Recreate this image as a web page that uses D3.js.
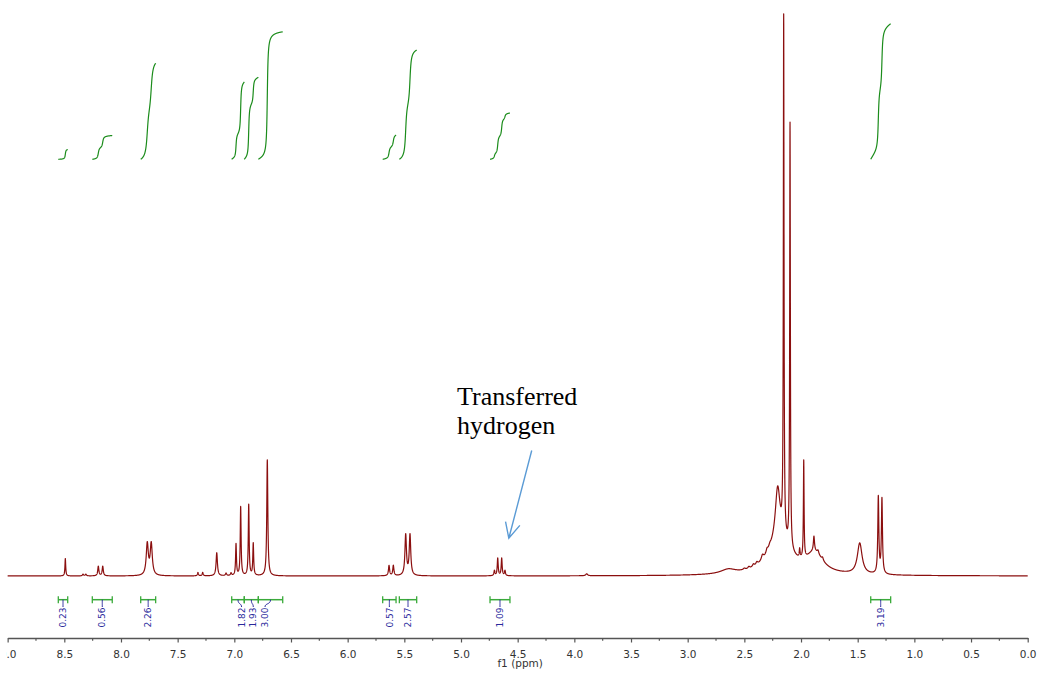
<!DOCTYPE html>
<html><head><meta charset="utf-8">
<script src="https://cdn.jsdelivr.net/npm/d3@7"></script>
<style>body{margin:0;background:#fff}svg{display:block}</style>
</head><body>
<svg id="c" width="1040" height="674"></svg>
<script>
// ---- Peak list (ppm, relative height, half width in ppm)
const peakPpm    = [8.491, 8.335, 8.310, 8.200, 8.161, 7.768, 7.733, 7.321, 7.279, 7.155, 7.073, 7.029,
                    6.985, 6.944, 6.873, 6.833, 6.709, 5.635, 5.597, 5.488, 5.450,
                    4.705, 4.676, 4.641, 4.612, 3.891, 2.642,
                    2.190, 2.500, 2.460, 2.420, 2.390, 2.340, 2.300, 2.275,
                    2.206, 2.153, 2.097, 2.012, 1.976, 1.880, 1.886, 1.850, 1.810,
                    1.482, 1.318, 1.286];
const peakHeight = [3.1, 0.3, 0.3, 1.7, 1.7, 5.6, 5.6, 0.6, 0.6, 4.1, 0.45, 0.45,
                    5.6, 12.2, 12.6, 5.7, 20.6, 1.8, 1.8, 7.2, 7.2,
                    0.9, 3.1, 3.1, 0.9, 0.35, 0.8,
                    6.0, 0.25, 0.35, 0.45, 0.5, 0.9, 0.7, 0.5,
                    9.3, 92, 75.5, 1.5, 17.3, 3.5, 2.6, 0.6, 0.5,
                    5.5, 13.6, 13.3];
const peakWidth  = [0.004, 0.006, 0.006, 0.006, 0.006, 0.011, 0.011, 0.005, 0.005, 0.007, 0.006, 0.006,
                    0.0045, 0.0045, 0.0045, 0.0045, 0.0055, 0.006, 0.006, 0.008, 0.008,
                    0.005, 0.005, 0.005, 0.005, 0.01, 0.08,
                    0.12, 0.01, 0.01, 0.01, 0.01, 0.012, 0.01, 0.012,
                    0.025, 0.0035, 0.0035, 0.004, 0.0035, 0.09, 0.006, 0.008, 0.008,
                    0.025, 0.0055, 0.0055];

// ---- Integration regions and values
const integralFrom  = [8.553, 8.253, 7.826, 7.023, 6.912, 6.788, 5.691, 5.544, 4.744, 1.385];
const integralTo    = [8.470, 8.077, 7.694, 6.912, 6.788, 6.573, 5.573, 5.391, 4.568, 1.209];
const integralValue = [0.23, 0.56, 2.26, 1.82, 1.93, 3.00, 0.57, 2.57, 1.09, 3.19];

// ---- Axis ticks
const majorTicks = [9.0, 8.5, 8.0, 7.5, 7.0, 6.5, 6.0, 5.5, 5.0, 4.5, 4.0, 3.5, 3.0, 2.5, 2.0, 1.5, 1.0, 0.5, 0.0];
const minorTicks = [8.75, 8.25, 7.75, 7.25, 6.75, 6.25, 5.75, 5.25, 4.75, 4.25, 3.75, 3.25, 2.75, 2.25, 1.75, 1.25, 0.75, 0.25];
const axisTitle = "f1 (ppm)";

// ---- Annotation (data coordinates: ppm, intensity)
const annotationLines = ["Transferred", "hydrogen"];
const annotationText  = [5.035, 30.4];
const arrowTail = [4.376, 22.3];
const arrowTip  = [4.578, 6.7];

// ---------------------------------------------------------------
const svg = d3.select("#c");
const x = d3.scaleLinear().domain([9.0, 0.0]).range([7.64, 1027.7]);
const y = d3.scaleLinear().domain([0, 100]).range([576, 13]);
const yInt = d3.scaleLinear().domain([0, 1]).range([159.3, 116.8]);

function intensity(p) {
  let s = 0;
  for (let i = 0; i < peakPpm.length; i++) {
    const d = (p - peakPpm[i]) / peakWidth[i];
    s += peakHeight[i] / (1 + d * d);
  }
  return s;
}

const step = 0.0005;
const spec = d3.range(9.0, -step / 2, -step).map(p => [p, intensity(p)]);

svg.append("path")
  .datum(spec)
  .attr("fill", "none")
  .attr("stroke", "#8b0f0f")
  .attr("stroke-width", 1.2)
  .attr("stroke-linejoin", "round")
  .attr("d", d3.line().x(d => x(d[0])).y(d => y(d[1])));

// ---- Integral curves
integralFrom.forEach((hi, i) => {
  const lo = integralTo[i];
  const pts = d3.range(hi, lo - step / 2, -step);
  let cum = 0;
  const c = pts.map((p, k) => { if (k > 0) cum += (intensity(p) + intensity(pts[k - 1])) / 2; return [p, cum]; });
  const total = cum;
  svg.append("path")
    .datum(c)
    .attr("fill", "none")
    .attr("stroke", "#1b8c1b")
    .attr("stroke-width", 1.2)
    .attr("d", d3.line().x(d => x(d[0])).y(d => yInt(integralValue[i] * d[1] / total)));
});

// ---- Integration bars + labels
const barY = 599.7;
const labelTop = 607;
const centers = integralFrom.map((hi, i) => (x(hi) + x(integralTo[i])) / 2);
const labelX = centers.slice();
let clusters = [], cur = [0];
for (let i = 1; i < integralFrom.length; i++) {
  if (Math.abs(integralFrom[i] - integralTo[i - 1]) < 0.01) cur.push(i);
  else { clusters.push(cur); cur = [i]; }
}
clusters.push(cur);
const labelGap = 11.7;
clusters.forEach(cl => {
  if (cl.length < 2) return;
  const m = d3.mean(cl, i => centers[i]);
  cl.forEach((i, k) => { labelX[i] = m + (k - (cl.length - 1) / 2) * labelGap; });
});

const gBars = svg.append("g");
integralFrom.forEach((hi, i) => {
  const x0 = x(hi), x1 = x(integralTo[i]);
  gBars.append("line").attr("x1", x0).attr("x2", x1).attr("y1", barY).attr("y2", barY)
    .attr("stroke", "#3aaa3a").attr("stroke-width", 1.5);
  [x0, x1].forEach(xx => gBars.append("line").attr("x1", xx).attr("x2", xx)
    .attr("y1", barY - 3.5).attr("y2", barY + 3.5).attr("stroke", "#3aaa3a").attr("stroke-width", 1.3));
  const cx = centers[i], lx = labelX[i];
  gBars.append("path")
    .attr("d", `M${cx},${barY}C${cx},${barY + 5} ${lx},${labelTop - 4} ${lx},${labelTop}`)
    .attr("fill", "none").attr("stroke", "#2a2a9c").attr("stroke-width", 1);
  gBars.append("text")
    .attr("transform", `translate(${lx},${labelTop + 0.5}) rotate(-90)`)
    .attr("text-anchor", "end")
    .attr("dy", "0.35em")
    .attr("font-family", "DejaVu Sans, Verdana, sans-serif")
    .attr("font-size", 9)
    .attr("fill", "#2a2a9c")
    .text(integralValue[i].toFixed(2));
});

// ---- Axis
const axisY = 638;
svg.append("clipPath").attr("id", "axclip").append("rect")
  .attr("x", 6).attr("y", -10).attr("width", 1040).attr("height", 40);
const gAxis = svg.append("g").attr("transform", `translate(0,${axisY})`).attr("clip-path", "url(#axclip)");
gAxis.call(d3.axisBottom(x).tickValues(majorTicks).tickSize(4.5).tickPadding(8)
  .tickFormat(d3.format(".1f")).tickSizeOuter(0));
gAxis.select(".domain").attr("stroke", "#555").attr("stroke-width", 1.5);
gAxis.selectAll(".tick line").attr("stroke", "#555").attr("stroke-width", 1.2);
gAxis.selectAll(".tick text").attr("font-family", "DejaVu Sans, Verdana, sans-serif")
  .attr("font-size", 10.5).attr("fill", "#333");
const gMinor = svg.append("g").attr("transform", `translate(0,${axisY})`);
gMinor.selectAll("line").data(minorTicks).join("line")
  .attr("x1", d => x(d)).attr("x2", d => x(d)).attr("y1", 0).attr("y2", 2.8)
  .attr("stroke", "#555").attr("stroke-width", 1.2);

svg.append("text")
  .attr("x", x(4.5) + 2.5).attr("y", 667)
  .attr("text-anchor", "middle")
  .attr("font-family", "DejaVu Sans, Verdana, sans-serif")
  .attr("font-size", 10.5).attr("fill", "#333")
  .text(axisTitle);

// ---- Annotation
const ann = svg.append("text")
  .attr("font-family", "Liberation Serif, Times New Roman, serif")
  .attr("font-size", 26).attr("fill", "#000");
annotationLines.forEach((t, k) => {
  ann.append("tspan").attr("x", x(annotationText[0]))
    .attr("y", y(annotationText[1]) + k * 29).text(t);
});
const tx = x(arrowTip[0]), ty = y(arrowTip[1]);
const sx = x(arrowTail[0]), sy = y(arrowTail[1]);
const ang = Math.atan2(ty - sy, tx - sx);
const hl = 17, ha = 0.45;
svg.append("path")
  .attr("d", `M${sx},${sy}L${tx},${ty}` +
    `M${tx - hl * Math.cos(ang - ha)},${ty - hl * Math.sin(ang - ha)}L${tx},${ty}` +
    `L${tx - hl * Math.cos(ang + ha)},${ty - hl * Math.sin(ang + ha)}`)
  .attr("fill", "none").attr("stroke", "#5b9bd5").attr("stroke-width", 1.4);
</script>
</body></html>
